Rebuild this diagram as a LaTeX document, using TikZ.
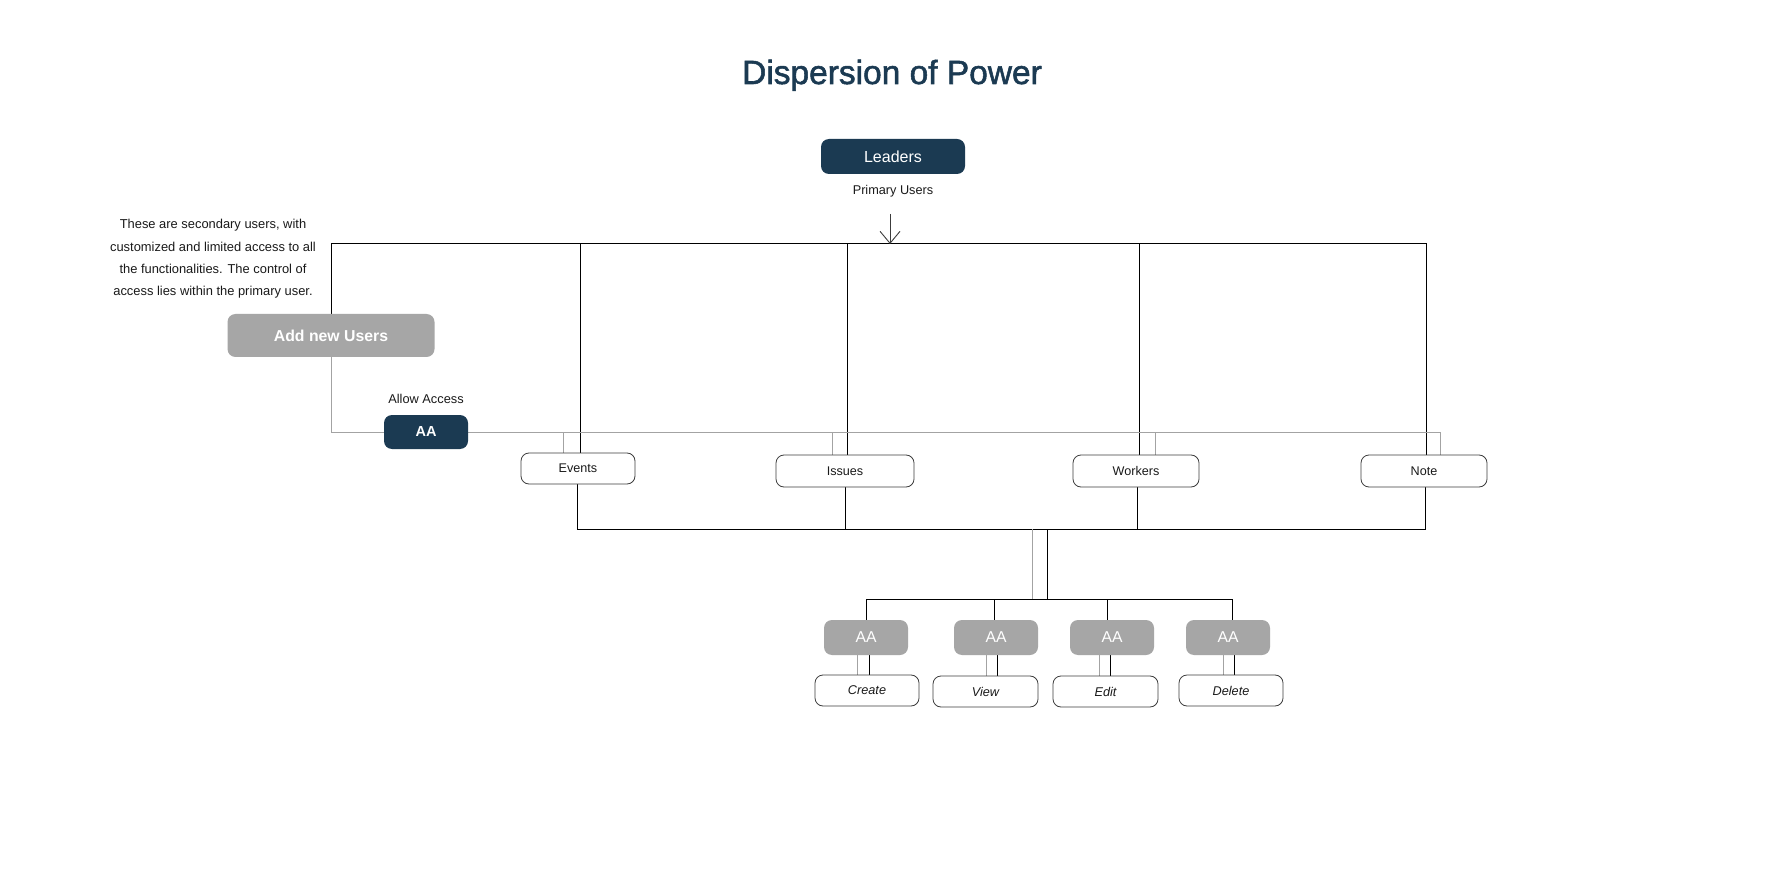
\documentclass[tikz,border=0pt]{standalone}
\usepackage{fontspec}
\setmainfont{Liberation Sans}
\newfontfamily\titlefont[FakeBold=1.6]{Liberation Sans}
\usetikzlibrary{arrows.meta,backgrounds}
\definecolor{navy}{HTML}{1B3A52}
\definecolor{boxgray}{HTML}{A6A6A6}
\definecolor{linegray}{HTML}{A3A3A3}
\definecolor{ink}{HTML}{1A1A1A}
\definecolor{edge}{HTML}{3C3C3C}
\newcommand\fsz[1]{\fontsize{#1}{#1}\selectfont}
\tikzset{
  darkbox/.style={fill=navy, rounded corners=8pt, inner sep=0pt, text=white},
  graybox/.style={fill=boxgray, rounded corners=8pt, inner sep=0pt, text=white},
  itembox/.style={draw=edge, line width=0.8pt, fill=white, rounded corners=8pt, inner sep=0pt, text=ink, font=\fsz{12.6}},
  itemital/.style={itembox, font=\fsz{12.7}\itshape},
  lbl/.style={text=ink, inner sep=0pt},
  blk/.style={draw=black, line width=1pt},
  gry/.style={draw=linegray, line width=0.9pt},
  arr/.style={draw=edge, line width=0.9pt, -{Straight Barb[length=12pt,width=20pt]}}
}
\begin{document}
\begin{tikzpicture}[x=1pt,y=-1pt]
\useasboundingbox (0,0) rectangle (1772,882);
% title
\node[inner sep=0pt, text=navy, font=\titlefont\fsz{33.5}, anchor=base] (title) at (892,84) {Dispersion of Power};
% leaders
\node[darkbox, minimum width=144pt, minimum height=35pt, font=\fsz{16}] (lead) at (893,156.5) {Leaders};
\node[lbl, font=\fsz{12.7}] (pu) at (893,191) {Primary Users};
% note text
\node[lbl, align=center, font=\fontsize{12.9}{22.3}\selectfont] (para) at (213,259)
  {These are secondary users, with\\customized and limited access to all\\the functionalities. The control of\\access lies within the primary user.};
% add users
\node[graybox, minimum width=207pt, minimum height=43pt, font=\fsz{15.8}\bfseries] (addu) at (331,335.5) {Add new Users};
\node[lbl, font=\fsz{12.8}] (allow) at (426,399) {Allow Access};
\node[darkbox, minimum width=84pt, minimum height=34pt, font=\fsz{14.5}\bfseries] (aa) at (426,432) {AA};
% modules
\node[itembox, minimum width=114pt, minimum height=31pt] (ev) at (578,468.5) {Events};
\node[itembox, minimum width=138pt, minimum height=32pt] (is) at (845,471) {Issues};
\node[itembox, minimum width=126pt, minimum height=32pt] (wk) at (1136,471) {Workers};
\node[itembox, minimum width=126pt, minimum height=32pt] (nt) at (1424,471) {Note};
% permission boxes
\node[graybox, minimum width=84pt, minimum height=35pt, font=\fsz{15.7}] (aa1) at (866,637.5) {AA};
\node[graybox, minimum width=84pt, minimum height=35pt, font=\fsz{15.7}] (aa2) at (996,637.5) {AA};
\node[graybox, minimum width=84pt, minimum height=35pt, font=\fsz{15.7}] (aa3) at (1112,637.5) {AA};
\node[graybox, minimum width=84pt, minimum height=35pt, font=\fsz{15.7}] (aa4) at (1228,637.5) {AA};
\node[itemital, minimum width=104pt, minimum height=31pt] (cr) at (867,690.5) {Create};
\node[itemital, minimum width=105pt, minimum height=31pt] (vw) at (985.5,691.5) {View};
\node[itemital, minimum width=105pt, minimum height=31pt] (ed) at (1105.5,691.5) {Edit};
\node[itemital, minimum width=104pt, minimum height=31pt] (dl) at (1231,690.5) {Delete};
% coordinates
\coordinate (tl) at (331,244);
\coordinate (arrs) at (890,214);
\coordinate (busb) at (1047,529);
\coordinate (busc) at (1047,599);
\begin{scope}[on background layer]
\fill[white] (0,0) rectangle (1772,882);
% top bus
\draw[blk] (addu.north) -- (tl) -- ([xshift=2pt]nt.north |- tl) -- ([xshift=2pt]nt.north);
\draw[blk] ([xshift=2pt]ev.north) -- ([xshift=2pt]ev.north |- tl);
\draw[blk] ([xshift=2pt]is.north) -- ([xshift=2pt]is.north |- tl);
\draw[blk] ([xshift=3pt]wk.north) -- ([xshift=3pt]wk.north |- tl);
\draw[arr] (arrs) -- (arrs |- tl);
% gray access line
\draw[gry] (addu.south) |- ([xshift=16pt]nt.north |- aa) -- ([xshift=16pt]nt.north);
\draw[gry] ([xshift=-15pt]ev.north) -- ([xshift=-15pt]ev.north |- aa);
\draw[gry] ([xshift=-13pt]is.north) -- ([xshift=-13pt]is.north |- aa);
\draw[gry] ([xshift=19pt]wk.north) -- ([xshift=19pt]wk.north |- aa);
% bottom bus
\draw[blk] ([xshift=-1pt]ev.south) -- ([xshift=-1pt]ev.south |- busb) -- ([xshift=1pt]nt.south |- busb) -- ([xshift=1pt]nt.south);
\draw[blk] (is.south) -- (is.south |- busb);
\draw[blk] ([xshift=1pt]wk.south) -- ([xshift=1pt]wk.south |- busb);
\draw[blk] (busb) -- (busc);
\draw[gry] ([xshift=-15pt]busb) -- ([xshift=-15pt]busc);
% permission bus
\draw[blk] (aa1.north) -- (aa1.north |- busc) -- ([xshift=4pt]aa4.north |- busc) -- ([xshift=4pt]aa4.north);
\draw[blk] ([xshift=-2pt]aa2.north) -- ([xshift=-2pt]aa2.north |- busc);
\draw[blk] ([xshift=-5pt]aa3.north) -- ([xshift=-5pt]aa3.north |- busc);
% AA to actions
\draw[blk] ([xshift=3pt]aa1.south) -- ([xshift=3pt]aa1.south |- cr.north);
\draw[gry] ([xshift=-9pt]aa1.south) -- ([xshift=-9pt]aa1.south |- cr.north);
\draw[blk] ([xshift=1pt]aa2.south) -- ([xshift=1pt]aa2.south |- vw.north);
\draw[gry] ([xshift=-10pt]aa2.south) -- ([xshift=-10pt]aa2.south |- vw.north);
\draw[blk] ([xshift=-2pt]aa3.south) -- ([xshift=-2pt]aa3.south |- ed.north);
\draw[gry] ([xshift=-13pt]aa3.south) -- ([xshift=-13pt]aa3.south |- ed.north);
\draw[blk] ([xshift=6pt]aa4.south) -- ([xshift=6pt]aa4.south |- dl.north);
\draw[gry] ([xshift=-5pt]aa4.south) -- ([xshift=-5pt]aa4.south |- dl.north);
\end{scope}
\end{tikzpicture}
\end{document}
